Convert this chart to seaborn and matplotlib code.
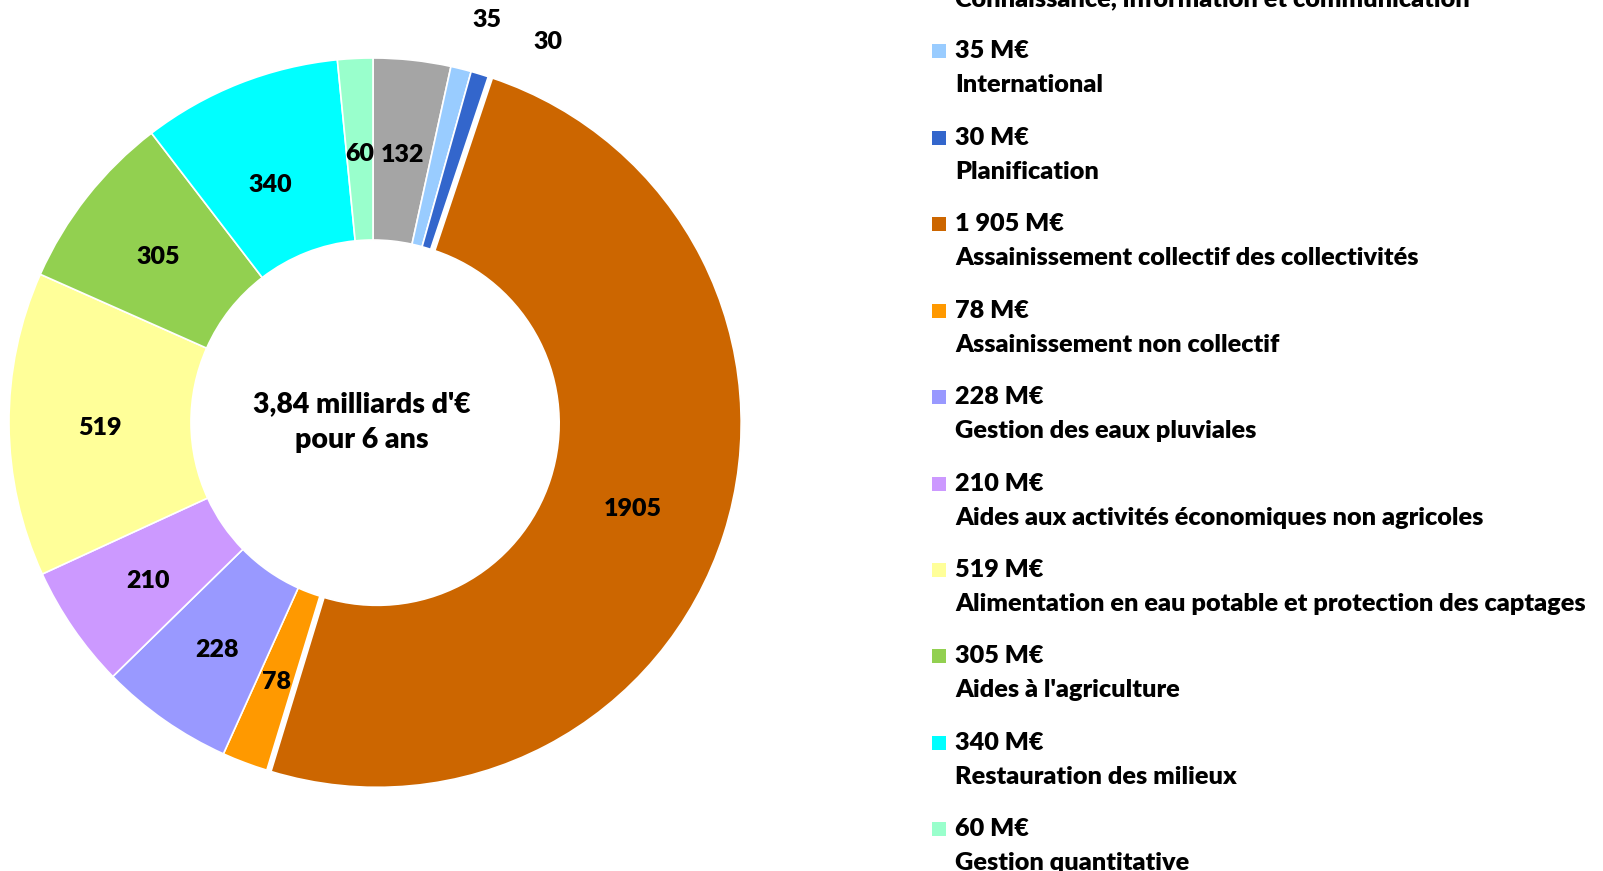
import numpy as np
import pandas as pd
import matplotlib
matplotlib.use("Agg")
import matplotlib.pyplot as plt
import seaborn as sns
from matplotlib.patches import Rectangle

# aides du programme, en M€, dans l'ordre du graphique (sens horaire depuis midi)
valeurs = [132, 35, 30, 1905, 78, 228, 210, 519, 305, 340, 60]
libelles = [
    "Connaissance, information et communication",
    "International",
    "Planification",
    "Assainissement collectif des collectivités",
    "Assainissement non collectif",
    "Gestion des eaux pluviales",
    "Aides aux activités économiques non agricoles",
    "Alimentation en eau potable et protection des captages",
    "Aides à l'agriculture",
    "Restauration des milieux",
    "Gestion quantitative",
]
couleurs = ["#A5A5A5", "#99CCFF", "#3366CC", "#CC6600", "#FF9900", "#9999FF",
            "#CC99FF", "#FFFF99", "#92D050", "#00FFFF", "#99FFCC"]
titre_centre = "3,84 milliards d'€\npour 6 ans"

df = pd.DataFrame({"valeur": valeurs, "libelle": libelles, "couleur": couleurs})

sns.set_theme(style="white")
plt.rcParams["font.family"] = ["Lato", "DejaVu Sans"]
plt.rcParams["text.color"] = "black"
POIDS = "heavy"

W, H = 1603, 871
fig = plt.figure(figsize=(W / 100, H / 100), dpi=100)

# donut
cx, cy, R = 373, 422, 364
ax = fig.add_axes([(cx - R) / W, (H - cy - R) / H, 2 * R / W, 2 * R / H])
explode = [0.012 if v == df["valeur"].max() else 0 for v in df["valeur"]]
wedges, _ = ax.pie(df["valeur"], colors=sns.color_palette(df["couleur"].tolist()),
                   startangle=90, counterclock=False, explode=explode,
                   wedgeprops=dict(width=0.5, edgecolor="white", linewidth=1.2))
ax.set_xlim(-1, 1)
ax.set_ylim(-1, 1)
ax.set_aspect("equal")
for w in wedges:
    w.set_clip_on(False)

# étiquettes de valeur
for i, (w, v) in enumerate(zip(wedges, df["valeur"])):
    ang = np.deg2rad((w.theta1 + w.theta2) / 2)
    r = 0.75
    if v < 50:  # petites parts: étiquette à l'extérieur
        r = 1.16
        ang -= np.deg2rad(1.7 if i == 1 else 7.5)
    elif v == 340:
        r = 0.72
        ang += np.deg2rad(1.5)
    ax.text(r * np.cos(ang), r * np.sin(ang) - 0.012, f"{v}", ha="center", va="center",
            fontsize=18, fontweight=POIDS)

ax.text(-0.03, 0, titre_centre, ha="center", va="center", fontsize=20.5,
        fontweight=POIDS, linespacing=1.5)

# légende
x_carre, x_texte = 932, 955
y0, pas = 51.5 - 86.4, 86.4
for i, row in df.iterrows():
    y = y0 + i * pas
    fig.patches.append(Rectangle(((x_carre) / W, (H - y - 7) / H), 14 / W, 14 / H,
                                 transform=fig.transFigure, facecolor=row["couleur"],
                                 edgecolor="none"))
    montant = f"{row['valeur']:,}".replace(",", " ") + " M€"
    fig.text(x_texte / W, (H - y) / H, montant, ha="left", va="center",
             fontsize=18.2, fontweight=POIDS)
    fig.text(x_texte / W, (H - y - 34) / H, row["libelle"], ha="left", va="center",
             fontsize=18.2, fontweight=POIDS)

fig.savefig("out.png", dpi=100)
